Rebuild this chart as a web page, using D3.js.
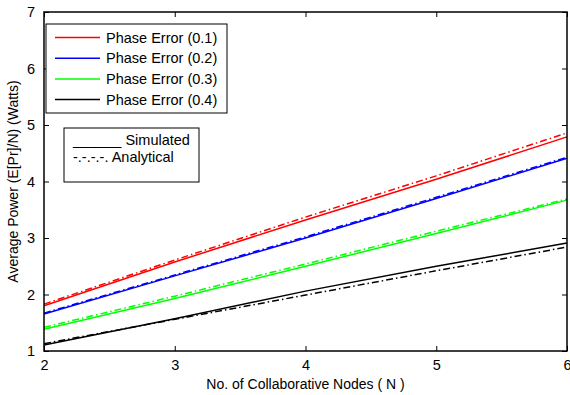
<!DOCTYPE html>
<html>
<head>
<meta charset="utf-8">
<script src="https://cdn.jsdelivr.net/npm/d3@7"></script>
<style>
  html, body { margin: 0; padding: 0; background: #fff; }
  svg { display: block; font-family: Arial, "Liberation Sans", sans-serif; }
</style>
</head>
<body>
<svg id="chart" width="570" height="395"></svg>
<script>
// Number of collaborative nodes
const nodes = [2, 3, 4, 5, 6];

// Phase error levels and colours
const phaseErrors = ["0.1", "0.2", "0.3", "0.4"];
const colors = ["#ff0000", "#0000ff", "#00ff00", "#000000"];

// Simulated average power per node (Watts)
const simulated01 = [1.80, 2.575, 3.32, 4.04, 4.79];
const simulated02 = [1.655, 2.33, 3.00, 3.70, 4.41];
const simulated03 = [1.385, 1.93, 2.50, 3.08, 3.67];
const simulated04 = [1.105, 1.57, 2.06, 2.50, 2.91];

// Analytical average power per node (Watts)
const analytical01 = [1.83, 2.61, 3.37, 4.10, 4.86];
const analytical02 = [1.67, 2.345, 3.02, 3.72, 4.43];
const analytical03 = [1.42, 1.97, 2.54, 3.12, 3.69];
const analytical04 = [1.13, 1.56, 1.99, 2.42, 2.84];

const xTicks = [2, 3, 4, 5, 6];
const yTicks = [1, 2, 3, 4, 5, 6, 7];

const simulated = [simulated01, simulated02, simulated03, simulated04];
const analytical = [analytical01, analytical02, analytical03, analytical04];

const svg = d3.select("#chart");
const pLeft = 44, pRight = 567, pTop = 12, pBottom = 351;

const x = d3.scaleLinear().domain([2, 6]).range([pLeft, pRight]);
const y = d3.scaleLinear().domain([1, 7]).range([pBottom, pTop]);
const fmt = d3.format("d");

// Axes with inward ticks on all four sides (boxed frame)
const tickLen = 5;
svg.append("g").attr("transform", `translate(0,${pBottom})`)
  .call(d3.axisBottom(x).tickValues(xTicks).tickFormat(fmt).tickSizeInner(-tickLen).tickSizeOuter(0).tickPadding(9))
  .call(g => g.select(".domain").remove());
svg.append("g").attr("transform", `translate(0,${pTop})`)
  .call(d3.axisTop(x).tickValues(xTicks).tickSizeInner(-tickLen).tickSizeOuter(0).tickFormat(""))
  .call(g => g.select(".domain").remove());
svg.append("g").attr("transform", `translate(${pLeft},0)`)
  .call(d3.axisLeft(y).tickValues(yTicks).tickFormat(fmt).tickSizeInner(-tickLen).tickSizeOuter(0).tickPadding(9))
  .call(g => g.select(".domain").remove());
svg.append("g").attr("transform", `translate(${pRight},0)`)
  .call(d3.axisRight(y).tickValues(yTicks).tickSizeInner(-tickLen).tickSizeOuter(0).tickFormat(""))
  .call(g => g.select(".domain").remove());

svg.selectAll(".tick text").attr("font-size", 14.5).attr("fill", "#000")
  .attr("font-family", "Arial, 'Liberation Sans', sans-serif");
svg.selectAll(".tick line").attr("stroke", "#000").attr("stroke-width", 1);

// Data lines
const line = d3.line().x((d, i) => x(nodes[i])).y(d => y(d));
const plot = svg.append("g");
analytical.forEach((s, k) => {
  plot.append("path").datum(s).attr("d", line)
    .attr("fill", "none").attr("stroke", colors[k]).attr("stroke-width", 1.5)
    .attr("stroke-dasharray", "7,3,1.5,3");
});
simulated.forEach((s, k) => {
  plot.append("path").datum(s).attr("d", line)
    .attr("fill", "none").attr("stroke", colors[k]).attr("stroke-width", 1.5);
});

// Frame
svg.append("rect").attr("x", pLeft).attr("y", pTop)
  .attr("width", pRight - pLeft).attr("height", pBottom - pTop)
  .attr("fill", "none").attr("stroke", "#000").attr("stroke-width", 1.5);

// Axis labels
svg.append("text").attr("x", (pLeft + pRight) / 2).attr("y", 389)
  .attr("text-anchor", "middle").attr("font-size", 14).text("No. of Collaborative Nodes ( N )");
svg.append("text").attr("transform", `translate(18,${(pTop + pBottom) / 2}) rotate(-90)`)
  .attr("text-anchor", "middle").attr("font-size", 14).text("Average Power (E[Pr]/N) (Watts)");

// Phase error legend
const lg = svg.append("g");
lg.append("rect").attr("x", 46).attr("y", 24).attr("width", 181).attr("height", 89)
  .attr("fill", "#fff").attr("stroke", "#000").attr("stroke-width", 1);
phaseErrors.forEach((p, i) => {
  const cy = 37.5 + i * 20.7;
  lg.append("line").attr("x1", 55).attr("x2", 100).attr("y1", cy).attr("y2", cy)
    .attr("stroke", colors[i]).attr("stroke-width", 1.5);
  lg.append("text").attr("x", 106).attr("y", cy + 5).attr("font-size", 14.5)
    .text(`Phase Error (${p})`);
});

// Line-style legend
const ls = svg.append("g");
ls.append("rect").attr("x", 64).attr("y", 128).attr("width", 135).attr("height", 54)
  .attr("fill", "#fff").attr("stroke", "#000").attr("stroke-width", 1);
ls.append("text").attr("x", 73).attr("y", 145).attr("font-size", 14.5).text("______ Simulated");
ls.append("text").attr("x", 73).attr("y", 162).attr("font-size", 14.5).text("-.-.-.-. Analytical");
</script>
</body>
</html>
